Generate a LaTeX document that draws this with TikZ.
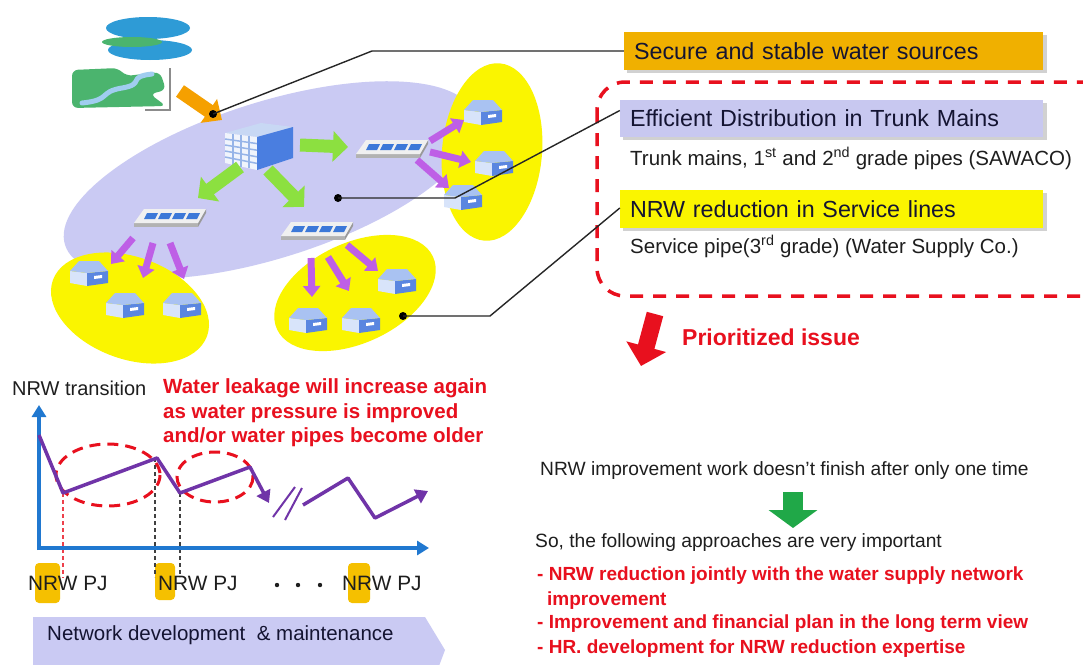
\documentclass[tikz,border=0pt]{standalone}
\usepackage{fontspec}
\setmainfont{Liberation Sans}
\usetikzlibrary{arrows.meta,calc}

\definecolor{lav}{RGB}{202,202,243}
\definecolor{lavbox}{RGB}{200,200,240}
\definecolor{yel}{RGB}{250,245,0}
\definecolor{orn}{RGB}{240,176,0}
\definecolor{orarrow}{RGB}{245,160,0}
\definecolor{redc}{RGB}{232,16,30}
\definecolor{purp}{RGB}{112,52,168}
\definecolor{axisblue}{RGB}{32,120,208}
\definecolor{vio}{RGB}{190,95,230}
\definecolor{grn}{RGB}{140,224,64}
\definecolor{dgrn}{RGB}{32,168,72}
\definecolor{hl}{RGB}{245,192,0}
\definecolor{txt}{RGB}{30,30,30}
\definecolor{boxtxt}{RGB}{20,20,50}
\definecolor{hsblue}{RGB}{90,134,224}
\definecolor{hslight}{RGB}{216,228,250}
\definecolor{hstop}{RGB}{169,194,242}
\definecolor{seablue}{RGB}{46,155,214}
\definecolor{landgreen}{RGB}{75,180,110}
\definecolor{river}{RGB}{160,205,240}
\definecolor{slotblue}{RGB}{60,120,216}
\definecolor{planttop}{RGB}{200,216,244}
\definecolor{plantfront}{RGB}{240,244,252}
\definecolor{plantside}{RGB}{74,126,224}
\definecolor{plantgrid}{RGB}{150,180,232}

\newcommand\fsz[1]{\fontsize{#1}{#1}\selectfont}

\tikzset{
  lbl/.style={anchor=base west, inner sep=0pt, text=txt},
  redlbl/.style={anchor=base west, inner sep=0pt, text=redc, font=\fsz{19pt}\bfseries},
  titlebox/.style={minimum height=38pt, inner ysep=0pt, inner xsep=10pt,
    text width=#1, align=left, text=boxtxt, font=\fsz{23.3pt}},
  shadowbox/.style={fill=black!18},
  leader/.style={draw=black!85, line width=1.4pt},
  ldot/.style={circle, fill=black, inner sep=0pt, minimum size=8pt},
  garrow/.style={draw=grn, line width=13pt, -{Triangle[length=15pt,width=30pt]}},
  varrow/.style={draw=vio, line width=7pt, -{Triangle[length=11pt,width=17pt]}},
  trend/.style={draw=purp, line width=3.5pt, line join=round},
  trendtip/.style={trend, -{Triangle[length=12pt,width=15pt]}},
  axis/.style={draw=axisblue, line width=3.5pt, -{Triangle[length=12pt,width=14pt]}},
  reddash/.style={draw=redc, line width=3pt, dash pattern=on 11pt off 7pt},
  guide/.style={line width=1.1pt, dash pattern=on 4pt off 3pt},
  pjmark/.style={fill=hl, rounded corners=4pt},
  house/.pic={
    \fill[hslight] (-19,-2) -- (-19,10) -- (-2,13) -- (-2,0) -- cycle;
    \fill[hsblue] (-2,0) -- (-2,13) -- (19,10) -- (19,-2) -- cycle;
    \fill[hstop] (-19,-2) -- (-10,-12) -- (10,-12) -- (19,-2) -- (-2,0) -- cycle;
    \fill[white] (5,3) -- (13,2) -- (13,5) -- (5,6) -- cycle;
  },
  device/.pic={
    \fill[black!30] (-36,6) -- (28,6) -- (28,10) -- (-36,10) -- cycle;
    \fill[black!40] (28,6) -- (36,-8) -- (36,-4) -- (28,10) -- cycle;
    \fill[black!6] (-36,6) -- (-26,-8) -- (36,-8) -- (28,6) -- cycle;
    \foreach \c in {-18,-4,10,24}
      \fill[slotblue] (\c-8,2) -- (\c-5,-4) -- (\c+6,-4) -- (\c+3,2) -- cycle;
  },
  plant/.pic={
    \fill[planttop] (-34,-15) -- (-2,-11) -- (34,-21) -- (2,-25) -- cycle;
    \fill[plantfront] (-34,-15) -- (-2,-11) -- (-2,22) -- (-34,15) -- cycle;
    \fill[plantside] (-2,-11) -- (34,-21) -- (34,10) -- (-2,22) -- cycle;
    \foreach \t in {0.2,0.4,0.6,0.8}
      \draw[plantgrid, line width=1.5pt]
        ($(-34,-15)!\t!(-34,15)$) -- ($(-2,-11)!\t!(-2,22)$);
    \foreach \t in {0.25,0.5,0.75}
      \draw[plantgrid, line width=1.5pt]
        ($(-34,-15)!\t!(-2,-11)$) -- ($(-34,15)!\t!(-2,22)$);
  }
}

\begin{document}
\begin{tikzpicture}[x=1pt,y=-1pt,font=\fsz{19.2pt}]
\clip (0,0) rectangle (1083,664);
\fill[white] (0,0) rectangle (1083,664);

% ---------- network scene ----------
\fill[lav, rotate around={17.6:(270,180)}] (270,180) ellipse [x radius=215, y radius=78];
\fill[yel, rotate around={-5:(492,152)}] (492,152) ellipse [x radius=50, y radius=89];
\fill[yel, rotate around={25:(355,293)}] (355,293) ellipse [x radius=86, y radius=50];
\fill[yel, rotate around={-20:(130,308)}] (130,308) ellipse [x radius=82, y radius=51];

% water sources
\fill[seablue] (148,28) ellipse [x radius=42, y radius=11];
\fill[seablue] (150,50) ellipse [x radius=42, y radius=10];
\fill[landgreen] (132,42) ellipse [x radius=30, y radius=5];
\fill[landgreen, rounded corners=6pt] (72,70) -- (118,68) -- (126,76) -- (160,72) -- (166,90)
  -- (150,94) -- (166,106) -- (72,108) -- cycle;
\draw[river, line width=5pt, line cap=round] (82,103) .. controls (112,100) and (98,92) .. (122,88)
  .. controls (146,84) and (126,77) .. (152,74);
\draw[black!45, line width=1.5pt] (145,110) -- (170,110) -- (170,68);
\draw[draw=orarrow, line width=14pt, -{Triangle[length=16pt,width=28pt]}] (180,91) -- (222,120);

% plant, pipe devices and houses
\pic at (259,148) {plant};
\pic at (392,148) {device};
\pic at (170,217) {device};
\pic at (317,230) {device};

\draw[garrow] (300,145) -- (348,147);
\draw[garrow] (240,167) -- (198,198);
\draw[garrow] (268,170) -- (304,207);

\draw[varrow] (430,141) -- (464,120);
\draw[varrow] (430,152) -- (471,162);
\draw[varrow] (417,160) -- (449,188);
\draw[varrow] (311,258) -- (312,297);
\draw[varrow] (328,257) -- (349,291);
\draw[varrow] (347,245) -- (378,271);
\draw[varrow] (133,238) -- (111,264);
\draw[varrow] (153,243) -- (143,278);
\draw[varrow] (170,243) -- (184,279);

\pic at (483,112) {house};
\pic at (494,163) {house};
\pic at (463,197) {house};
\pic at (397,281) {house};
\pic at (308,320) {house};
\pic at (361,320) {house};
\pic at (89,273) {house};
\pic at (125,305) {house};
\pic at (182,305) {house};

% ---------- title boxes ----------
\fill[shadowbox] (627,35) rectangle (1047,73);
\node[titlebox=399pt, fill=orn] (srcbox) at (833.5,51) {Secure and stable water sources};

\draw[reddash, line width=3.5pt, dash pattern=on 13pt off 10pt, rounded corners=28pt]
  (597,82) rectangle (1110,296);

\fill[shadowbox] (623,103) rectangle (1047,140);
\node[titlebox=403pt, fill=lavbox, minimum height=37pt] (trunkbox) at (831.5,118.5)
  {Efficient Distribution in Trunk Mains};
\node[lbl, font=\fsz{20.5pt}] (trunksub) at (630,165)
  {Trunk mains, 1\textsuperscript{st} and 2\textsuperscript{nd} grade pipes (SAWACO)};

\fill[shadowbox] (623,193) rectangle (1047,231);
\node[titlebox=403pt, fill=yel] (nrwbox) at (831.5,209) {NRW reduction in Service lines};
\node[lbl, font=\fsz{20.5pt}] (servsub) at (630,253)
  {Service pipe(3\textsuperscript{rd} grade) (Water Supply Co.)};

% leader lines
\node[ldot] (dsrc) at (213,114) {};
\node[ldot] (dtrunk) at (338,198) {};
\node[ldot] (dserv) at (403,316) {};
\draw[leader] (dsrc.center) -- (372,51) -- (srcbox.west);
\draw[leader] (dtrunk.center) -- (455,198) -- ([yshift=8pt]trunkbox.west);
\draw[leader] (dserv.center) -- (490,316) -- ([yshift=1pt]nrwbox.west);

% prioritized issue
\draw[draw=redc, line width=17pt, -{Triangle[length=20pt,width=40pt]}] (655,314) -- (641,366);
\node[anchor=base west, inner sep=0pt, text=redc, font=\fsz{23pt}\bfseries] (prio)
  at (682,345) {Prioritized issue};

% ---------- NRW transition chart ----------
\node[lbl, font=\fsz{20pt}] (nrwtrans) at (12,395) {NRW transition};
\node[redlbl, font=\fsz{20.5pt}\bfseries] (leak1) at (163,393) {Water leakage will increase again};
\node[redlbl, font=\fsz{20.5pt}\bfseries] (leak2) at (163,418) {as water pressure is improved};
\node[redlbl, font=\fsz{20.5pt}\bfseries] (leak3) at (163,442) {and/or water pipes become older};

\draw[reddash] (108,475) ellipse [x radius=52, y radius=31];
\draw[reddash] (215,477) ellipse [x radius=38, y radius=25];

\fill[pjmark] (35,563) rectangle (60,603);
\fill[pjmark] (155,563) rectangle (175,600);
\fill[pjmark] (348,563) rectangle (370,603);

\draw[guide, draw=redc!80] (63,493) -- (63,578);
\draw[guide, draw=black!75] (155,458) -- (155,577);
\draw[guide, draw=black!75] (180,493) -- (180,577);

\draw[axis] (39,550) -- (39,405);
\draw[axis] (37,548) -- (429,548);

\draw[trendtip] (39,435) -- (63,493) -- (157,458) -- (180,493) -- (250,467) -- (269,503);
\draw[draw=purp, line width=2pt] (273,517) -- (295,487);
\draw[draw=purp, line width=2pt] (285,520) -- (302,488);
\draw[trendtip] (303,505) -- (348,478) -- (375,518) -- (428,491);

\node[lbl, font=\fsz{20.8pt}] (pj1) at (28,590) {NRW PJ};
\node[lbl, font=\fsz{20.8pt}] (pj2) at (158,590) {NRW PJ};
\node[lbl, font=\fsz{20.8pt}] (pj3) at (342,590) {NRW PJ};
\foreach \d in {277,298,320} \fill[txt] (\d,585) circle (2.2);

\fill[lav] (33,617) -- (425,617) -- (445,650) -- (430,690) -- (33,690) -- cycle;
\node[lbl, font=\fsz{20.5pt}, text=boxtxt] (netdev) at (47,640) {Network development\ \ \& maintenance};

% ---------- conclusions ----------
\node[lbl] (once) at (540,475) {NRW improvement work doesn’t finish after only one time};
\draw[draw=dgrn, line width=20pt, -{Triangle[length=18pt,width=48pt]}] (793,492) -- (793,528);
\node[lbl] (sothe) at (535,547) {So, the following approaches are very important};
\node[redlbl] (app1) at (537,580) {- NRW reduction jointly with the water supply network};
\node[redlbl] (app1b) at (547,605) {improvement};
\node[redlbl] (app2) at (537,628) {- Improvement and financial plan in the long term view};
\node[redlbl] (app3) at (537,653) {- HR. development for NRW reduction expertise};
\end{tikzpicture}
\end{document}
